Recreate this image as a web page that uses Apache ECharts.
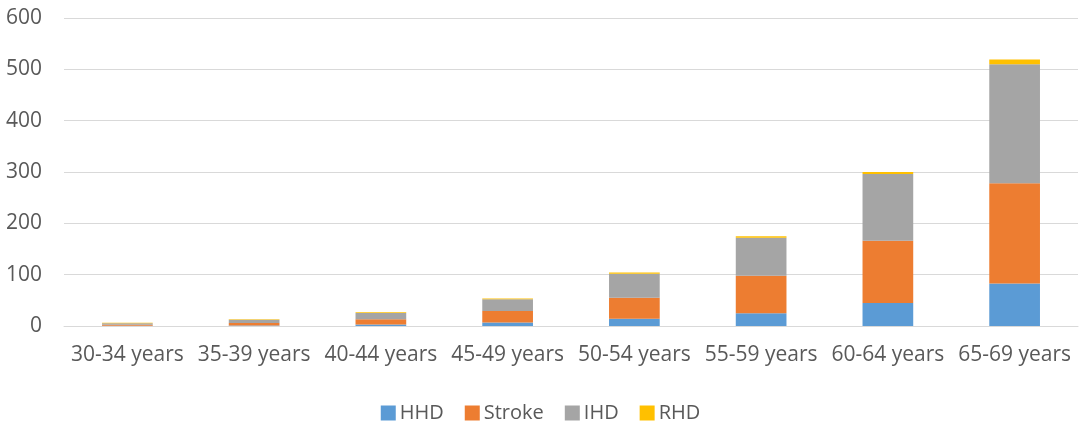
<!DOCTYPE html>
<html>
<head>
<meta charset="utf-8">
<script src="https://cdn.jsdelivr.net/npm/echarts@6/dist/echarts.min.js"></script>
<style>
  html, body { margin: 0; padding: 0; background: #fff; }
  #chart { width: 1081px; height: 425px; }
</style>
</head>
<body>
<div id="chart"></div>
<script>
const categories = ['30-34 years', '35-39 years', '40-44 years', '45-49 years', '50-54 years', '55-59 years', '60-64 years', '65-69 years'];
const hhd    = [0.5, 1, 3, 7, 14, 25, 45, 83];
const stroke = [2, 5, 10, 22, 41, 73, 121, 195];
const ihd    = [3, 6, 12.5, 23, 47, 74, 130, 232];
const rhd    = [0.8, 1, 1.5, 1.5, 2, 3, 4, 9];
const yTicks = [0, 100, 200, 300, 400, 500, 600];

const textColor = '#595959';
const font = 'Open Sans';

const chart = echarts.init(document.getElementById('chart'));

function bar(name, data, color) {
    return {
        name: name,
        type: 'bar',
        stack: 'total',
        data: data,
        barCategoryGap: '60%',
        itemStyle: { color: color },
        emphasis: { disabled: true }
    };
}

chart.setOption({
    animation: false,
    textStyle: { fontFamily: font },
    grid: { left: 64, right: 3, top: 18, bottom: 99, containLabel: false },
    legend: {
        top: 398,
        left: 'center',
        itemWidth: 15,
        itemHeight: 15,
        itemGap: 21,
        icon: 'rect',
        textStyle: { color: textColor, fontSize: 20, fontFamily: font, padding: [0, 0, 0, -1] },
        data: ['HHD', 'Stroke', 'IHD', 'RHD']
    },
    xAxis: {
        type: 'category',
        data: categories,
        axisTick: { show: false },
        axisLine: { lineStyle: { color: '#d9d9d9', width: 1 } },
        axisLabel: { color: textColor, fontSize: 21, margin: 19, interval: 0, fontFamily: font }
    },
    yAxis: {
        type: 'value',
        min: yTicks[0],
        max: yTicks[yTicks.length - 1],
        interval: 100,
        axisLine: { show: false },
        axisTick: { show: false },
        splitLine: { lineStyle: { color: '#d9d9d9', width: 1 } },
        axisLabel: { color: textColor, fontSize: 21, margin: 22, fontFamily: font }
    },
    series: [
        bar('HHD', hhd, '#5b9bd5'),
        bar('Stroke', stroke, '#ed7d31'),
        bar('IHD', ihd, '#a5a5a5'),
        bar('RHD', rhd, '#ffc000')
    ]
});
</script>
</body>
</html>
